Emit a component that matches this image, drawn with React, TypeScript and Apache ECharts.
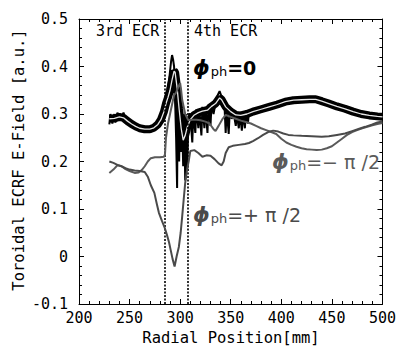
import React, { useEffect, useRef } from "react";
import * as echarts from "echarts";

// Radial position [mm] vs toroidal ECRF E-field [a.u.]
const phi0Center: number[][] = [
  [230, 0.29], [235, 0.291], [240, 0.294], [244, 0.292], [248, 0.285], [252, 0.279], [256, 0.274],
  [260, 0.27], [265, 0.268], [270, 0.268], [274, 0.271], [278, 0.278], [281, 0.288], [284, 0.305],
  [286, 0.322], [288, 0.335], [290, 0.35], [292, 0.372], [294, 0.39], [295, 0.388], [297, 0.355],
  [299, 0.31], [301, 0.27], [303, 0.245], [305, 0.255], [307, 0.272], [310, 0.288], [314, 0.298],
  [318, 0.303], [322, 0.306], [327, 0.308], [331, 0.316], [335, 0.322], [339, 0.334], [341, 0.33],
  [345, 0.315], [350, 0.305], [355, 0.298], [360, 0.297], [366, 0.3], [372, 0.305], [380, 0.31],
  [388, 0.315], [396, 0.32], [404, 0.326], [412, 0.329], [420, 0.33], [428, 0.331], [434, 0.331],
  [440, 0.327], [447, 0.322], [455, 0.316], [463, 0.311], [471, 0.305], [479, 0.3], [487, 0.297],
  [495, 0.295], [500, 0.294],
];

const phi0NoiseLeft: number[][] = [
  [230, 0.278], [231, 0.3], [233, 0.28], [235, 0.3], [236, 0.282], [238, 0.303], [241, 0.287],
  [244, 0.303], [247, 0.283],
];

const phi0NoiseMid: number[][] = [
  [283, 0.31], [285, 0.33], [287, 0.345], [289, 0.37], [290, 0.39], [291, 0.41], [292, 0.424],
  [293, 0.415], [294, 0.4], [295, 0.33], [296, 0.25], [297, 0.144], [297.5, 0.3], [298, 0.36],
  [299, 0.2], [300, 0.32], [301, 0.22], [302, 0.28], [303, 0.19], [304, 0.3], [305, 0.16],
  [306, 0.3], [307, 0.18], [308, 0.28], [309, 0.3], [310, 0.3], [312, 0.24], [313, 0.3],
  [315, 0.26], [316, 0.31], [318, 0.27], [319, 0.31], [321, 0.255], [322, 0.315], [324, 0.27],
  [325, 0.315], [327, 0.26], [328, 0.32], [330, 0.275], [331, 0.32], [333, 0.3], [336, 0.335],
  [339, 0.348], [342, 0.33], [344, 0.31], [345, 0.26], [346, 0.31], [348, 0.258], [349, 0.305],
  [351, 0.29], [353, 0.3], [355, 0.275], [356, 0.3], [358, 0.27], [359, 0.3], [361, 0.265],
  [362, 0.3], [364, 0.27], [365, 0.302], [367, 0.28], [368, 0.305], [372, 0.31],
];

const phiMinus: number[][] = [
  [230, 0.176], [234, 0.183], [238, 0.192], [242, 0.19], [246, 0.184], [250, 0.18], [255, 0.176],
  [259, 0.177], [262, 0.182], [265, 0.19], [268, 0.2], [271, 0.207], [275, 0.209], [280, 0.209],
  [284, 0.21], [285, 0.215], [286, 0.25], [288, 0.28], [290, 0.3], [292, 0.32], [294, 0.34],
  [296, 0.345], [298, 0.356], [300, 0.365], [301, 0.35], [302, 0.33], [303, 0.32], [305, 0.3],
  [308, 0.287], [312, 0.288], [316, 0.288], [320, 0.287], [325, 0.284], [329, 0.28], [333, 0.268],
  [335, 0.264], [338, 0.275], [342, 0.29], [345, 0.298], [350, 0.294], [355, 0.29], [360, 0.286],
  [365, 0.283], [370, 0.28], [375, 0.275], [380, 0.27], [385, 0.266], [390, 0.262], [395, 0.258],
  [400, 0.248], [405, 0.24], [410, 0.235], [415, 0.231], [420, 0.228], [425, 0.226], [430, 0.225],
  [435, 0.224], [440, 0.225], [445, 0.228], [450, 0.232], [455, 0.24], [460, 0.248], [465, 0.256],
  [470, 0.262], [475, 0.266], [480, 0.27], [485, 0.273], [490, 0.276], [495, 0.279], [500, 0.281],
];

const phiPlus: number[][] = [
  [230, 0.2], [234, 0.197], [238, 0.193], [242, 0.19], [246, 0.186], [250, 0.183], [255, 0.181],
  [260, 0.18], [265, 0.178], [268, 0.168], [271, 0.15], [274.5, 0.134], [277, 0.11], [279, 0.092],
  [282, 0.075], [284.8, 0.06], [287, 0.045], [289, 0.03], [290.6, 0.014], [292.5, -0.005],
  [294.5, -0.021], [296.5, 0.0], [298.7, 0.02], [300.5, 0.05], [302, 0.084], [303.5, 0.12],
  [305, 0.155], [307, 0.185], [308.4, 0.2], [310, 0.222], [314, 0.224], [318, 0.218], [322, 0.21],
  [326, 0.213], [330, 0.212], [334, 0.205], [338, 0.196], [341, 0.192], [343, 0.2], [345, 0.218],
  [348, 0.23], [352, 0.233], [358, 0.235], [364, 0.237], [368, 0.239], [372, 0.243], [377, 0.249],
  [382, 0.256], [387, 0.262], [392, 0.265], [397, 0.263], [402, 0.259], [407, 0.256], [412, 0.255],
  [420, 0.254], [430, 0.253], [440, 0.252], [447, 0.253], [455, 0.256], [463, 0.259], [470, 0.264],
  [477, 0.269], [483, 0.273], [490, 0.278], [495, 0.282], [500, 0.284],
];

const ecrLines = [285, 308];
const ecrLabels = ["3rd ECR", "4th ECR"];

const MONO = "'DejaVu Sans Mono', monospace";

export default function App() {
  const ref = useRef<HTMLDivElement>(null);
  useEffect(() => {
    if (!ref.current) return;
    const chart = echarts.init(ref.current, null, { renderer: "svg" });
    const axisCommon = {
      axisLine: { show: true, onZero: false, lineStyle: { color: "#000", width: 1 } },
      axisTick: { show: true, inside: true, length: 5, lineStyle: { color: "#000" } },
      minorTick: { show: true, splitNumber: 5, length: 3, lineStyle: { color: "#000" } },
      splitLine: { show: false },
      minorSplitLine: { show: false },
    };
    const xCommon = { type: "value", min: 200, max: 500, interval: 50, ...axisCommon };
    const yCommon = { type: "value", min: -0.1, max: 0.5, interval: 0.1, ...axisCommon };
    const gray = "#5a5a5a";
    const richPhi = (color: string, rest: string, bold: boolean) => ({
      text: `{p|ϕ}{s|ph}{r|${rest}}`,
      rich: {
        p: { fontFamily: "DejaVu Sans", fontSize: 21, fontWeight: "bold", fontStyle: "italic", fill: color },
        s: { fontFamily: "DejaVu Sans", fontSize: 13, fill: color, padding: [6, 0, 0, 1] },
        r: { fontFamily: "DejaVu Sans", fontSize: 19, fontWeight: bold ? "bold" : "normal", fill: color },
      },
    });
    const line = (name: string, data: number[][], color: string, width: number, z: number) => ({
      type: "line",
      name,
      data,
      showSymbol: false,
      lineStyle: { color, width },
      z,
    });
    chart.setOption({
      animation: false,
      grid: { left: 79, right: 11, top: 19, bottom: 45 },
      xAxis: [
        {
          ...xCommon,
          position: "bottom",
          axisLabel: { color: "#000", fontFamily: MONO, fontSize: 15, margin: 6 },
        },
        { ...xCommon, position: "top", axisLabel: { show: false } },
      ],
      yAxis: [
        {
          ...yCommon,
          position: "left",
          axisLabel: {
            color: "#000",
            fontFamily: MONO,
            fontSize: 15,
            margin: 11,
            formatter: (v: number) => (Math.abs(v) < 1e-9 ? "0" : v.toFixed(1)),
          },
        },
        { ...yCommon, position: "right", axisLabel: { show: false } },
      ],
      series: [
        line("noise left", phi0NoiseLeft, "#000", 2, 2),
        line("noise mid", phi0NoiseMid, "#000", 2, 2),
        {
          ...line("phi0 band", phi0Center, "#000", 8, 3),
          markLine: {
            silent: true,
            symbol: ["none", "none"],
            label: { show: false },
            lineStyle: { color: "#000", type: [2, 1.5], width: 1.6 },
            data: ecrLines.map((x) => ({ xAxis: x })),
          },
        },
        line("phi0", phi0Center, "#e6e6e6", 1.3, 4),
        line("phi -pi/2", phiMinus, gray, 2, 5),
        line("phi +pi/2", phiPlus, "#4a4a4a", 2, 5),
      ],
      graphic: [
        {
          type: "text",
          x: 96,
          y: 31,
          style: { text: ecrLabels[0], font: `15px ${MONO}`, fill: "#000", verticalAlign: "middle" },
        },
        {
          type: "text",
          x: 194,
          y: 31,
          style: { text: ecrLabels[1], font: `15px ${MONO}`, fill: "#000", verticalAlign: "middle" },
        },
        {
          type: "text",
          x: 193,
          y: 68,
          style: { ...richPhi("#000", "=0", true), verticalAlign: "middle" },
        },
        {
          type: "text",
          x: 272,
          y: 162,
          style: { ...richPhi(gray, "=− π /2", false), verticalAlign: "middle" },
        },
        {
          type: "text",
          x: 193,
          y: 215,
          style: { ...richPhi("#4a4a4a", "=+ π /2", false), verticalAlign: "middle" },
        },
        {
          type: "text",
          x: 231,
          y: 338,
          style: { text: "Radial Position[mm]", font: `15.5px ${MONO}`, fill: "#000", align: "center", verticalAlign: "middle" },
        },
        {
          type: "text",
          x: 19,
          y: 160,
          rotation: Math.PI / 2,
          style: { text: "Toroidal ECRF E-Field [a.u.]", font: `15.5px ${MONO}`, fill: "#000", align: "center", verticalAlign: "middle" },
        },
      ],
    });
    return () => chart.dispose();
  }, []);
  return (
    <div
      ref={ref}
      style={{ position: "fixed", left: 0, top: 0, width: 399, height: 349, background: "#fff" }}
    />
  );
}
